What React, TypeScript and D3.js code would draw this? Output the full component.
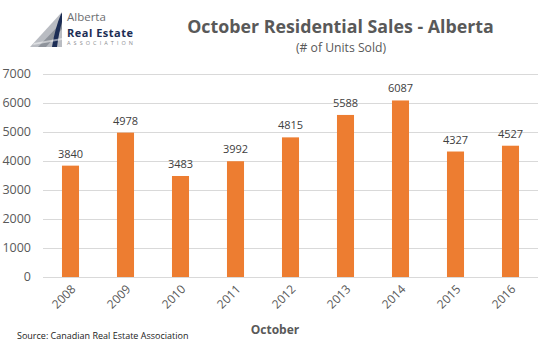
import { useEffect, useRef } from 'react';
import * as d3 from 'd3';

const years = ['2008', '2009', '2010', '2011', '2012', '2013', '2014', '2015', '2016'];
const unitsSold = [3840, 4978, 3483, 3992, 4815, 5588, 6087, 4327, 4527];
const yTicks = [0, 1000, 2000, 3000, 4000, 5000, 6000, 7000];

const FONT = "'Open Sans', 'Liberation Sans', sans-serif";

const App = () => {
  const svgRef = useRef<SVGSVGElement>(null);

  useEffect(() => {
    document.body.style.margin = '0';

    const width = 554;
    const height = 351;
    const margin = { top: 74, right: 16, bottom: 74, left: 43 };

    const svg = d3.select(svgRef.current);
    svg.selectAll('*').remove();
    svg.attr('width', width).attr('height', height).style('display', 'block').style('background', '#fff');

    const x = d3
      .scaleBand()
      .domain(years)
      .range([margin.left, width - margin.right])
      .paddingInner(0.69)
      .paddingOuter(0.345);

    const y = d3
      .scaleLinear()
      .domain([0, 7000])
      .range([height - margin.bottom, margin.top]);

    // gridlines
    svg
      .append('g')
      .selectAll('line')
      .data(yTicks)
      .enter()
      .append('line')
      .attr('x1', margin.left)
      .attr('x2', width - margin.right)
      .attr('y1', (d) => y(d) + 0.5)
      .attr('y2', (d) => y(d) + 0.5)
      .attr('stroke', '#d9d9d9')
      .attr('stroke-width', 1);

    // y labels
    svg
      .append('g')
      .selectAll('text')
      .data(yTicks)
      .enter()
      .append('text')
      .attr('x', 31)
      .attr('y', (d) => y(d))
      .attr('dy', '0.35em')
      .attr('text-anchor', 'end')
      .attr('font-family', FONT)
      .attr('font-size', 12.5)
      .attr('fill', '#595959')
      .text((d) => d);

    const data = years.map((yr, i) => ({ yr, v: unitsSold[i] }));

    // bars
    svg
      .append('g')
      .selectAll('rect')
      .data(data)
      .enter()
      .append('rect')
      .attr('x', (d) => x(d.yr)!)
      .attr('y', (d) => y(d.v))
      .attr('width', x.bandwidth())
      .attr('height', (d) => y(0) - y(d.v))
      .attr('fill', '#ed7d31');

    // value labels
    svg
      .append('g')
      .selectAll('text')
      .data(data)
      .enter()
      .append('text')
      .attr('x', (d) => x(d.yr)! + x.bandwidth() / 2)
      .attr('y', (d) => y(d.v) - 8)
      .attr('text-anchor', 'middle')
      .attr('font-family', FONT)
      .attr('font-size', 11)
      .attr('fill', '#404040')
      .text((d) => d.v);

    // x labels
    svg
      .append('g')
      .selectAll('text')
      .data(years)
      .enter()
      .append('text')
      .attr('transform', (d) => `translate(${x(d)! + x.bandwidth() / 2 + 3},${y(0) + 10}) rotate(-45)`)
      .attr('text-anchor', 'end')
      .attr('dy', '0.35em')
      .attr('font-family', FONT)
      .attr('font-size', 12)
      .attr('fill', '#595959')
      .text((d) => d);

    // titles
    svg
      .append('text')
      .attr('x', 340.5)
      .attr('y', 33)
      .attr('text-anchor', 'middle')
      .attr('font-family', FONT)
      .attr('font-weight', 'bold')
      .attr('font-size', 17.8)
      .attr('fill', '#595959')
      .text('October Residential Sales - Alberta');

    svg
      .append('text')
      .attr('x', 341)
      .attr('y', 52)
      .attr('text-anchor', 'middle')
      .attr('font-family', FONT)
      .attr('font-size', 12.2)
      .attr('fill', '#595959')
      .text('(# of Units Sold)');

    svg
      .append('text')
      .attr('x', 275)
      .attr('y', 334)
      .attr('text-anchor', 'middle')
      .attr('font-family', FONT)
      .attr('font-weight', 'bold')
      .attr('font-size', 12)
      .attr('fill', '#595959')
      .text('October');

    svg
      .append('text')
      .attr('x', 17)
      .attr('y', 339)
      .attr('font-family', FONT)
      .attr('font-size', 9)
      .attr('fill', '#222')
      .text('Source: Canadian Real Estate Association');

    // logo
    const logo = svg.append('g');
    logo
      .append('path')
      .attr('d', 'M30,47 L62,12 L62,47 Z')
      .attr('fill', '#b9bcc2');
    logo
      .append('path')
      .attr('d', 'M38,47 L62,22 L62,29 L46,47 Z')
      .attr('fill', '#8e939b');
    logo
      .append('path')
      .attr('d', 'M52,47 Q55,28 61,14 L62,13 L62,22 Q59,32 57,47 Z')
      .attr('fill', '#1c2d55');
    logo
      .append('path')
      .attr('d', 'M34,43 L62,38 L62,40 L33,45 Z')
      .attr('fill', '#ffffff')
      .attr('opacity', 0.5);
    logo
      .append('text')
      .attr('x', 67)
      .attr('y', 21)
      .attr('font-family', FONT)
      .attr('font-size', 11.5)
      .attr('fill', '#6d6e71')
      .text('Alberta');
    logo
      .append('text')
      .attr('x', 67)
      .attr('y', 36.5)
      .attr('font-family', FONT)
      .attr('font-weight', 'bold')
      .attr('font-size', 11)
      .attr('fill', '#1c2d55')
      .attr('textLength', 66)
      .text('Real Estate');
    logo
      .append('text')
      .attr('x', 67)
      .attr('y', 45)
      .attr('font-family', FONT)
      .attr('font-size', 5.5)
      .attr('fill', '#8a8c8f')
      .attr('textLength', 66)
      .text('ASSOCIATION');
  }, []);

  return <svg ref={svgRef}></svg>;
};

export default App;
